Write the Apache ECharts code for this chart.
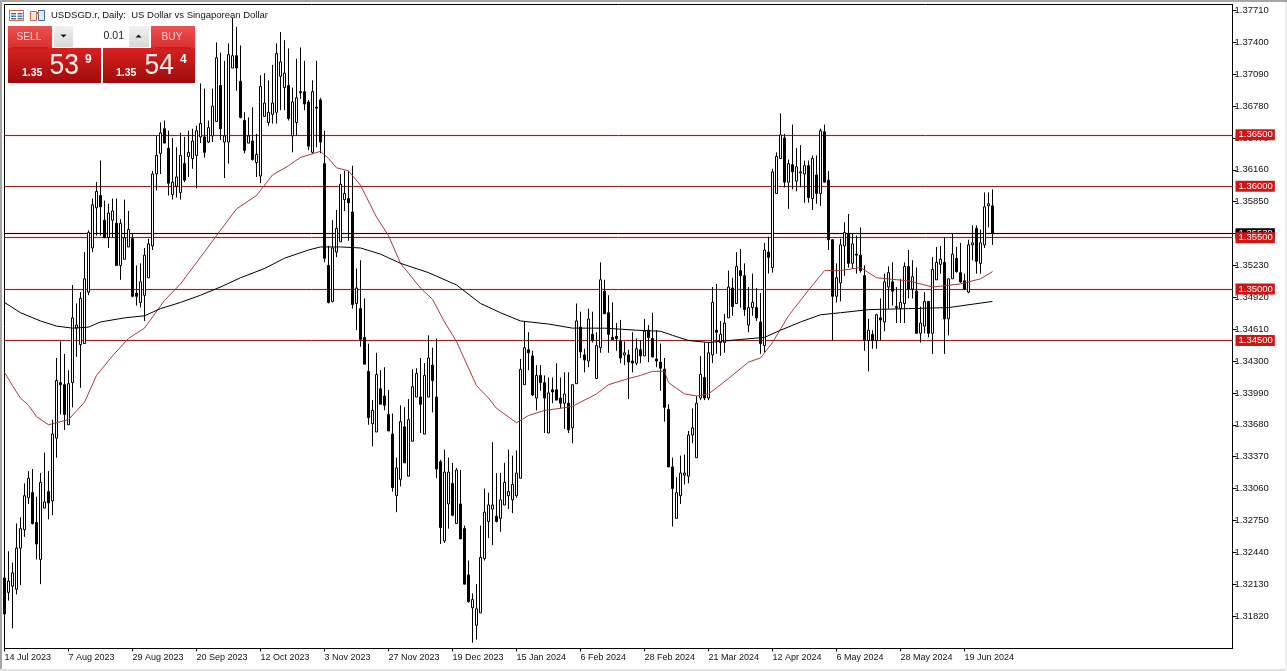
<!DOCTYPE html>
<html><head><meta charset="utf-8"><title>USDSGD.r Daily</title>
<script src="https://cdn.jsdelivr.net/npm/echarts@6/dist/echarts.min.js"></script>
<style>html,body{margin:0;padding:0;background:#fff;overflow:hidden}#c{width:1287px;height:671px}</style></head>
<body><div id="c"></div>
<script>
const dateLabels=["14 Jul 2023","7 Aug 2023","29 Aug 2023","20 Sep 2023","12 Oct 2023","3 Nov 2023","27 Nov 2023","19 Dec 2023","15 Jan 2024","6 Feb 2024","28 Feb 2024","21 Mar 2024","12 Apr 2024","6 May 2024","28 May 2024","19 Jun 2024"];
const priceTicks=[1.3771,1.374,1.3709,1.3678,1.3647,1.3616,1.3585,1.3554,1.3523,1.3492,1.3461,1.343,1.3399,1.3368,1.3337,1.3306,1.3275,1.3244,1.3213,1.3182];
const levels=[1.365,1.36,1.355,1.35,1.345];
const lastPrice=1.35539;
const opens=[1.3219,1.3205,1.3211,1.3208,1.3248,1.3266,1.3297,1.3302,1.3273,1.3237,1.3287,1.3303,1.3294,1.3355,1.3409,1.3407,1.3368,1.3409,1.3462,1.3446,
1.3447,1.3497,1.3540,1.3579,1.3591,1.3567,1.3550,1.3567,1.3564,1.3523,1.3529,1.3541,1.3549,1.3496,1.3487,1.3494,1.3511,1.3542,1.3612,1.3632,
1.3656,1.3637,1.3592,1.3600,1.3594,1.3622,1.3629,1.3627,1.3630,1.3648,1.3648,1.3643,1.3649,1.3663,1.3698,1.3643,1.3643,1.3715,1.3727,1.3702,
1.3664,1.3642,1.3644,1.3623,1.3610,1.3668,1.3662,1.3670,1.3672,1.3707,1.3696,1.3698,1.3649,1.3662,1.3692,1.3692,1.3682,1.3633,1.3677,1.3684,
1.3622,1.3523,1.3488,1.3536,1.3546,1.3587,1.3588,1.3575,1.3486,1.3481,1.3453,1.3420,1.3369,1.3361,1.3403,1.3396,1.3378,1.3359,1.3299,1.3315,
1.3366,1.3318,1.3352,1.3395,1.3395,1.3359,1.3395,1.3426,1.3395,1.3332,1.3255,1.3291,1.3311,1.3272,1.3291,1.3267,1.3222,1.3190,1.3173,1.3185,
1.3238,1.3274,1.3286,1.3279,1.3277,1.3290,1.3299,1.3295,1.3299,1.3316,1.3407,1.3441,1.3435,1.3394,1.3416,1.3409,1.3360,1.3402,1.3402,1.3394,
1.3389,1.3389,1.3365,1.3408,1.3463,1.3436,1.3430,1.3456,1.3413,1.3443,1.3498,1.3477,1.3453,1.3454,1.3449,1.3436,1.3436,1.3430,1.3428,1.3441,
1.3435,1.3460,1.3452,1.3432,1.3429,1.3422,1.3383,1.3327,1.3277,1.3299,1.3319,1.3318,1.3358,1.3336,1.3394,1.3414,1.3394,1.3436,1.3460,1.3448,
1.3448,1.3472,1.3501,1.3486,1.3518,1.3513,1.3465,1.3482,1.3482,1.3468,1.3445,1.3536,1.3521,1.3593,1.3627,1.3647,1.3604,1.3621,1.3605,1.3613,
1.3612,1.3620,1.3588,1.3611,1.3593,1.3653,1.3606,1.3548,1.3493,1.3506,1.3542,1.3554,1.3525,1.3534,1.3533,1.3513,1.3450,1.3456,1.3450,1.3472,
1.3468,1.3502,1.3507,1.3483,1.3481,1.3486,1.3522,1.3500,1.3498,1.3457,1.3464,1.3488,1.3457,1.3509,1.3524,1.3526,1.3471,1.3510,1.3530,1.3516,
1.3508,1.3497,1.3543,1.3559,1.3525,1.3543,1.3581,1.3581];
const closes=[1.3184,1.3216,1.3224,1.3248,1.3267,1.3299,1.3316,1.3272,1.3252,1.3312,1.3293,1.3292,1.3359,1.3411,1.3407,1.3378,1.3408,1.3472,1.3465,1.3491,
1.3510,1.3555,1.3582,1.3595,1.3580,1.3550,1.3574,1.3576,1.3523,1.3564,1.3550,1.3558,1.3493,1.3493,1.3507,1.3533,1.3544,1.3612,1.3630,1.3652,
1.3642,1.3603,1.3604,1.3609,1.3630,1.3606,1.3633,1.3644,1.3654,1.3661,1.3633,1.3657,1.3678,1.3725,1.3656,1.3649,1.3728,1.3727,1.3715,1.3667,
1.3635,1.3649,1.3626,1.3631,1.3697,1.3681,1.3672,1.3681,1.3729,1.3721,1.3710,1.3666,1.3682,1.3686,1.3691,1.3680,1.3639,1.3692,1.3676,1.3643,
1.3530,1.3487,1.3540,1.3559,1.3602,1.3593,1.3584,1.3485,1.3501,1.3451,1.3427,1.3375,1.3382,1.3417,1.3388,1.3387,1.3362,1.3307,1.3326,1.3371,
1.3331,1.3373,1.3405,1.3418,1.3388,1.3416,1.3433,1.3411,1.3325,1.3268,1.3322,1.3322,1.3280,1.3324,1.3257,1.3213,1.3196,1.3198,1.3189,1.3239,
1.3283,1.3290,1.3290,1.3274,1.3295,1.3312,1.3303,1.3310,1.3321,1.3422,1.3443,1.3438,1.3397,1.3416,1.3409,1.3394,1.3399,1.3400,1.3392,1.3389,
1.3398,1.3363,1.3407,1.3469,1.3439,1.3431,1.3471,1.3450,1.3445,1.3509,1.3476,1.3456,1.3451,1.3452,1.3433,1.3438,1.3429,1.3428,1.3442,1.3435,
1.3459,1.3453,1.3434,1.3430,1.3423,1.3385,1.3327,1.3306,1.3302,1.3321,1.3321,1.3358,1.3365,1.3389,1.3417,1.3394,1.3438,1.3487,1.3458,1.3456,
1.3467,1.3502,1.3483,1.3522,1.3513,1.3480,1.3482,1.3487,1.3472,1.3447,1.3538,1.3531,1.3614,1.3629,1.3650,1.3604,1.3622,1.3614,1.3619,1.3614,
1.3620,1.3589,1.3627,1.3593,1.3654,1.3604,1.3548,1.3493,1.3511,1.3543,1.3555,1.3525,1.3544,1.3533,1.3518,1.3450,1.3460,1.3450,1.3475,1.3470,
1.3507,1.3516,1.3498,1.3482,1.3487,1.3522,1.3500,1.3512,1.3457,1.3467,1.3488,1.3457,1.3519,1.3526,1.3529,1.3471,1.3510,1.3534,1.3517,1.3507,
1.3500,1.3543,1.3545,1.3527,1.3545,1.3580,1.3583,1.35539];
const highs=[1.3241,1.3245,1.3234,1.3272,1.3278,1.3311,1.3323,1.3325,1.3298,1.3321,1.3341,1.3323,1.3373,1.3433,1.3449,1.3437,1.3421,1.3504,1.3486,1.3497,
1.3536,1.3557,1.3588,1.3604,1.3625,1.3586,1.3583,1.3588,1.3588,1.3568,1.3587,1.3576,1.3554,1.3523,1.3525,1.3540,1.3549,1.3615,1.3649,1.3662,
1.3664,1.3654,1.3647,1.3638,1.3652,1.3648,1.3654,1.3656,1.3659,1.3700,1.3695,1.3664,1.3695,1.3740,1.3730,1.3722,1.3739,1.3764,1.3755,1.3737,
1.3672,1.3667,1.3677,1.3651,1.3708,1.3710,1.3703,1.3718,1.3739,1.3750,1.3742,1.3734,1.3696,1.3724,1.3735,1.3722,1.3684,1.3703,1.3722,1.3686,
1.3654,1.3542,1.3567,1.3577,1.3612,1.3615,1.3615,1.3620,1.3520,1.3528,1.3491,1.3447,1.3392,1.3438,1.3421,1.3424,1.3402,1.3379,1.3336,1.3387,
1.3385,1.3393,1.3422,1.3423,1.3433,1.3428,1.3455,1.3443,1.3452,1.3334,1.3344,1.3336,1.3331,1.3326,1.3324,1.3270,1.3236,1.3204,1.3213,1.3270,
1.3306,1.3302,1.3351,1.3321,1.3321,1.3331,1.3344,1.3338,1.3343,1.3432,1.3469,1.3458,1.3440,1.3426,1.3426,1.3416,1.3414,1.3414,1.3428,1.3414,
1.3419,1.3419,1.3407,1.3486,1.3478,1.3442,1.3481,1.3478,1.3458,1.3526,1.3509,1.3494,1.3487,1.3467,1.3470,1.3449,1.3441,1.3458,1.3452,1.3450,
1.3471,1.3465,1.3477,1.3460,1.3447,1.3433,1.3388,1.3336,1.3317,1.3338,1.3339,1.3362,1.3384,1.3396,1.3435,1.3448,1.3448,1.3502,1.3505,1.3469,
1.3476,1.3518,1.3511,1.3536,1.3539,1.3525,1.3502,1.3515,1.3501,1.3496,1.3545,1.3551,1.3617,1.3633,1.3671,1.3651,1.3626,1.3660,1.3637,1.3640,
1.3625,1.3625,1.3630,1.3630,1.3656,1.3660,1.3615,1.3548,1.3525,1.3549,1.3565,1.3573,1.3554,1.3552,1.3560,1.3523,1.3471,1.3460,1.3476,1.3491,
1.3515,1.3522,1.3526,1.3502,1.3510,1.3526,1.3538,1.3528,1.3521,1.3483,1.3497,1.3488,1.3531,1.3541,1.3542,1.3550,1.3510,1.3554,1.3541,1.3545,
1.3515,1.3548,1.3562,1.3562,1.3558,1.3594,1.3594,1.3597];
const lows=[1.3178,1.3197,1.3170,1.3203,1.3212,1.3259,1.3291,1.3271,1.3237,1.3213,1.3287,1.3276,1.3280,1.3336,1.3378,1.3363,1.3368,1.3385,1.3434,1.3404,
1.3447,1.3494,1.3536,1.3552,1.3552,1.3550,1.3540,1.3550,1.3523,1.3509,1.3529,1.3541,1.3492,1.3484,1.3482,1.3469,1.3511,1.3538,1.3596,1.3612,
1.3642,1.3591,1.3587,1.3589,1.3587,1.3604,1.3609,1.3617,1.3598,1.3642,1.3628,1.3642,1.3643,1.3663,1.3645,1.3608,1.3622,1.3715,1.3693,1.3666,
1.3632,1.3642,1.3625,1.3609,1.3603,1.3668,1.3659,1.3661,1.3661,1.3674,1.3674,1.3664,1.3633,1.3649,1.3685,1.3674,1.3635,1.3632,1.3638,1.3632,
1.3526,1.3486,1.3487,1.3531,1.3546,1.3576,1.3547,1.3481,1.3460,1.3444,1.3427,1.3368,1.3347,1.3361,1.3388,1.3382,1.3362,1.3303,1.3283,1.3308,
1.3331,1.3318,1.3352,1.3395,1.3360,1.3359,1.3395,1.3380,1.3316,1.3252,1.3253,1.3267,1.3279,1.3272,1.3257,1.3213,1.3195,1.3156,1.3159,1.3185,
1.3236,1.3258,1.3251,1.3273,1.3264,1.3290,1.3286,1.3282,1.3297,1.3316,1.3407,1.3421,1.3396,1.3382,1.3401,1.3360,1.3360,1.3389,1.3392,1.3384,
1.3364,1.3360,1.3350,1.3408,1.3433,1.3419,1.3424,1.3448,1.3413,1.3438,1.3476,1.3438,1.3451,1.3440,1.3428,1.3426,1.3393,1.3419,1.3426,1.3428,
1.3435,1.3429,1.3434,1.3424,1.3401,1.3371,1.3327,1.3269,1.3277,1.3291,1.3310,1.3311,1.3350,1.3336,1.3392,1.3392,1.3392,1.3428,1.3437,1.3435,
1.3438,1.3472,1.3474,1.3486,1.3482,1.3474,1.3458,1.3474,1.3469,1.3437,1.3438,1.3515,1.3516,1.3593,1.3627,1.3599,1.3578,1.3597,1.3595,1.3599,
1.3584,1.3584,1.3577,1.3583,1.3581,1.3604,1.3538,1.3450,1.3487,1.3488,1.3513,1.3521,1.3520,1.3515,1.3516,1.3440,1.3420,1.3442,1.3442,1.3450,
1.3459,1.3481,1.3484,1.3467,1.3467,1.3467,1.3491,1.3491,1.3457,1.3448,1.3457,1.3453,1.3437,1.3509,1.3515,1.3437,1.3455,1.3510,1.3516,1.3506,
1.3499,1.3496,1.3528,1.3515,1.3515,1.3540,1.3560,1.3543];
const fastMaBars=[0,2,4,6,8,11,16,20,23,27,31,35,40,44,49,53,58,63,67,71,74,79,81,83,86,89,93,96,99,104,107,110,113,118,121,123,128,131,135,139,142,148,151,156,159,162,165,166,170,173,176,181,186,189,192,196,201,205,209,214,218,226,232,239,244,247];
const fastMaValues=[1.3419,1.3406,1.3394,1.3387,1.3376,1.3368,1.3373,1.3390,1.3416,1.3435,1.3452,1.3462,1.3489,1.3505,1.3531,1.3552,1.3578,1.3591,1.3611,1.3620,1.3628,1.3634,1.3627,1.3618,1.3615,1.3601,1.3570,1.3552,1.3525,1.3501,1.3490,1.3468,1.3449,1.3406,1.3394,1.3384,1.3370,1.3377,1.3382,1.3384,1.3386,1.3398,1.3407,1.3413,1.3416,1.3420,1.3420,1.3409,1.3398,1.3396,1.3398,1.3413,1.3429,1.3433,1.3448,1.3474,1.3499,1.3518,1.3518,1.3521,1.3511,1.3508,1.3502,1.3505,1.3510,1.3517];
const slowMaBars=[0,4,9,13,17,21,24,30,35,39,44,49,54,59,65,70,76,79,84,89,94,99,106,113,119,124,129,136,142,150,158,164,167,171,176,184,190,194,199,204,209,216,226,236,247];
const slowMaValues=[1.3487,1.3477,1.3469,1.3464,1.3462,1.3463,1.3468,1.3472,1.3474,1.3481,1.3487,1.3494,1.3502,1.3511,1.3520,1.3530,1.3538,1.3541,1.3541,1.3540,1.3534,1.3525,1.3516,1.3504,1.3486,1.3477,1.3469,1.3466,1.3462,1.3462,1.3460,1.3459,1.3455,1.3450,1.3448,1.3451,1.3453,1.3460,1.3468,1.3475,1.3477,1.3480,1.3481,1.3482,1.3488];

const slotCount=308, labelStep=16;
const categories=Array.from({length:slotCount},(_,i)=>i%labelStep===0&&dateLabels[i/labelStep]?dateLabels[i/labelStep]:'');
const candles=opens.map((o,i)=>[o,closes[i],lows[i],highs[i]]);
const pairs=(a,b)=>a.map((x,i)=>[x,b[i]]);
const F='"Liberation Sans",Arial,sans-serif';

const tag=(v,bg)=>({yAxis:v,lineStyle:{color:bg==='#000'?'#000':'#8e2626'},
  label:{show:true,position:'end',distance:3,formatter:v.toFixed(5),color:'#fff',backgroundColor:bg,padding:[1,2,0,3],fontFamily:F,fontSize:9.5,lineHeight:10}});

const btn=(x,y,w,h,c1,c2)=>({type:'rect',shape:{x,y,width:w,height:h},style:{fill:{type:'linear',x:0,y:0,x2:0,y2:1,colorStops:[{offset:0,color:c1},{offset:1,color:c2}]}},z:50});
const txt=(x,y,t,size,fill,weight,align,sx)=>({type:'text',x,y,scaleX:sx||1,style:{text:t,font:(weight||'normal')+' '+size+'px '+F,fill,textAlign:align||'left',textVerticalAlign:'middle'},z:52});
const box=(x,y,w,h,fill,stroke)=>({type:'rect',shape:{x,y,width:w,height:h},style:{fill:fill||'none',stroke:stroke||'none',lineWidth:1},z:52});

const chart=echarts.init(document.getElementById('c'),null,{renderer:'canvas',width:1287,height:671});
const tickShown=i=>i%labelStep===0&&i/labelStep<dateLabels.length;
chart.setOption({
  animation:false,backgroundColor:'#fff',
  grid:{left:4.5,right:54.5,top:4.5,bottom:22.5,show:true,borderColor:'#000',borderWidth:1,backgroundColor:'transparent'},
  xAxis:{type:'category',data:categories,boundaryGap:false,
    axisLine:{show:true,lineStyle:{color:'#000',width:1}},
    axisTick:{show:true,interval:tickShown,length:3,lineStyle:{color:'#000'}},
    axisLabel:{show:true,interval:tickShown,align:'left',margin:5,color:'#111',fontFamily:F,fontSize:9,hideOverlap:false},
    splitLine:{show:false}},
  yAxis:{type:'value',position:'right',min:1.31504,max:1.37768,scale:true,
    axisLine:{show:true,onZero:false,lineStyle:{color:'#000',width:1}},
    axisTick:{show:true,length:4,inside:false,customValues:priceTicks,lineStyle:{color:'#000'}},
    axisLabel:{show:true,margin:2,customValues:priceTicks,formatter:v=>v.toFixed(5),color:'#111',fontFamily:F,fontSize:9.5,showMinLabel:true,showMaxLabel:true},
    splitLine:{show:false}},
  series:[
    {type:'candlestick',data:candles,barWidth:2,silent:true,z:3,
     itemStyle:{color:'#fff',color0:'#000',borderColor:'#000',borderColor0:'#000',borderWidth:1},
     markLine:{silent:true,symbol:'none',z:3,animation:false,precision:5,
       lineStyle:{type:'solid',width:1,color:'#8e2626',shadowColor:'rgba(240,120,120,0.6)',shadowBlur:2},
       data:[tag(lastPrice,'#000')].concat(levels.map(v=>tag(v,'#d21414')))}},
    {type:'line',data:pairs(fastMaBars,fastMaValues),symbol:'none',silent:true,z:4,lineStyle:{color:'#a83a3a',width:1}},
    {type:'line',data:pairs(slowMaBars,slowMaValues),symbol:'none',silent:true,z:4,lineStyle:{color:'#000',width:1}}
  ],
  graphic:{elements:[
    box(0,0,1287,2,'#a6a6a6'),box(0,0,2,671,'#a6a6a6'),box(0,669,1287,2,'#e2e2e2'),box(1285,2,2,669,'#efefef'),
    // window icons
    box(9.5,10.5,14,10,'#fff','#d9654f'),box(11,13,5,1.4,'#3c6aa8'),box(11,15.5,5,1.4,'#3c6aa8'),box(11,18,5,1.4,'#3c6aa8'),box(17.5,13,5,1.4,'#3c6aa8'),box(17.5,15.5,5,1.4,'#3c6aa8'),box(17.5,18,5,1.4,'#3c6aa8'),
    box(30.5,11.5,6,9,'#fbe4dc','#d9654f'),box(38.5,10.5,6,10,'#e4eefa','#3c6aa8'),box(36,12,3,2,'#d9654f'),
    txt(51,15.5,'USDSGD.r, Daily:  US Dollar vs Singaporean Dollar',9.5,'#111'),
    // trade panel
    btn(8,26,44,22,'#ef5050','#d83030'),
    btn(151,26,44,22,'#ef5050','#d83030'),
    btn(8,48,93,35,'#d82020','#a00b0b'),
    btn(103,48,92,35,'#d82020','#a00b0b'),
    box(12,47.5,36,0.8,'#a01010'),box(155,47.5,36,0.8,'#a01010'),
    btn(54,26,19,21,'#f0f0f0','#d8d8d8'),
    box(73,26,56,21,'#fff'),
    btn(129,26,20,21,'#f0f0f0','#d8d8d8'),
    {type:'polygon',shape:{points:[[60.5,34.5],[66.5,34.5],[63.5,37.5]]},style:{fill:'#111'},z:53},
    {type:'polygon',shape:{points:[[135.5,37.5],[141.5,37.5],[138.5,34.5]]},style:{fill:'#111'},z:53},
    txt(29,36.5,'SELL',11,'#ffd0d0','normal','center',0.92),
    txt(172,36.5,'BUY',11,'#ffd0d0','normal','center',0.92),
    txt(124,36,'0.01',10.5,'#222','normal','right'),
    txt(22,73,'1.35',10.5,'#fff','bold'),
    txt(49.5,66,'53',30,'#ffecec','normal','left',0.88),
    txt(85,60,'9',12,'#fff','bold'),
    txt(116,73,'1.35',10.5,'#fff','bold'),
    txt(144.5,66,'54',30,'#ffecec','normal','left',0.88),
    txt(180,60,'4',12,'#fff','bold')
  ]}
});
</script></body></html>
